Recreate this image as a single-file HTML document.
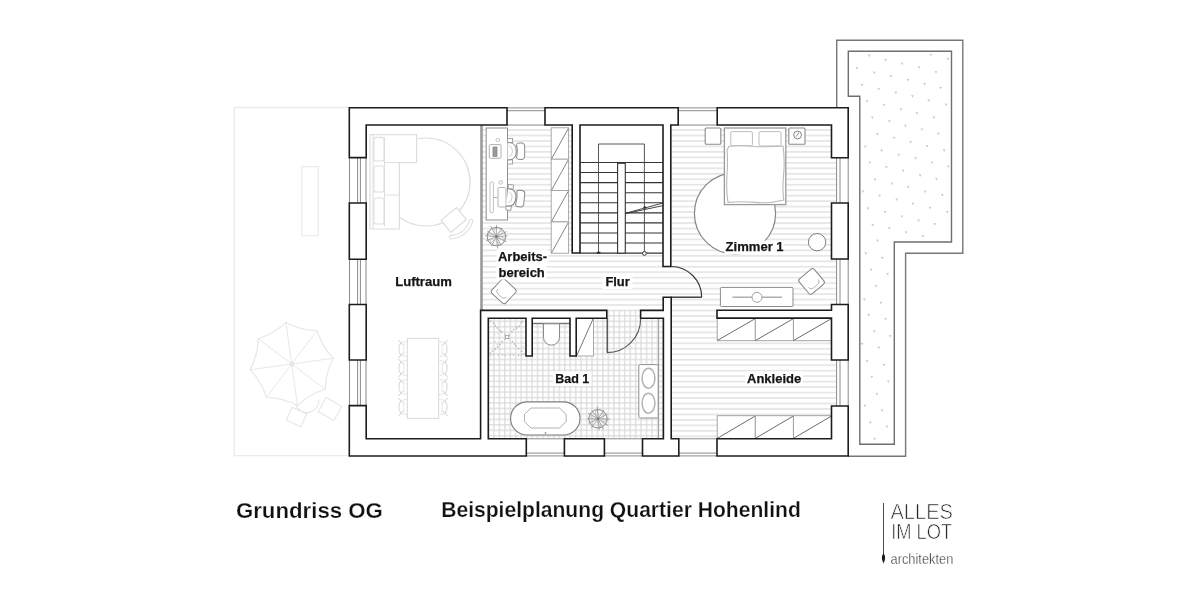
<!DOCTYPE html>
<html lang="de"><head><meta charset="utf-8"><title>Grundriss OG</title>
<style>
html,body{margin:0;padding:0;background:#fff;}
body{width:1200px;height:600px;overflow:hidden;font-family:"Liberation Sans",sans-serif;}
svg{display:block;will-change:transform;opacity:0.9999;}
text{font-family:"Liberation Sans",sans-serif;}
</style></head><body>
<svg width="1200" height="600" viewBox="0 0 1200 600">
<rect width="1200" height="600" fill="#fff"/>
<defs>
<pattern id="hatch" x="0" y="127.3" width="10" height="5.47" patternUnits="userSpaceOnUse"><rect x="0" y="2" width="10" height="1.4" fill="#e0e0e0"/></pattern>
<pattern id="grid" x="491.3" y="356.8" width="5.45" height="5.45" patternUnits="userSpaceOnUse"><rect x="2.1" y="0" width="1.1" height="5.45" fill="#d6d6d6"/><rect x="0" y="2.1" width="5.45" height="1.1" fill="#d6d6d6"/></pattern>
</defs>
<path d="M349.3,107.5 H234.3 V455.6 H349.3" fill="none" stroke="#ebebeb" stroke-width="1.3" />
<rect x="301.7" y="166.7" width="16.6" height="69.0" rx="0" fill="none" stroke="#ececec" stroke-width="1.2" />
<path d="M285.9,322.4 Q300.4,330.2 317.0,330.5 Q321.8,346.3 333.3,358.2 Q325.5,372.7 325.2,389.3 Q309.4,394.1 297.5,405.6 Q283.0,397.8 266.4,397.5 Q261.6,381.7 250.1,369.8 Q257.9,355.3 258.2,338.7 Q274.0,333.9 285.9,322.4 Z" fill="none" stroke="#e6e6e6" stroke-width="1.1" />
<line x1="291.7" y1="364" x2="285.9" y2="322.4" stroke="#e8e8e8" stroke-width="1" />
<line x1="291.7" y1="364" x2="317.0" y2="330.5" stroke="#e8e8e8" stroke-width="1" />
<line x1="291.7" y1="364" x2="333.3" y2="358.2" stroke="#e8e8e8" stroke-width="1" />
<line x1="291.7" y1="364" x2="325.2" y2="389.3" stroke="#e8e8e8" stroke-width="1" />
<line x1="291.7" y1="364" x2="297.5" y2="405.6" stroke="#e8e8e8" stroke-width="1" />
<line x1="291.7" y1="364" x2="266.4" y2="397.5" stroke="#e8e8e8" stroke-width="1" />
<line x1="291.7" y1="364" x2="250.1" y2="369.8" stroke="#e8e8e8" stroke-width="1" />
<line x1="291.7" y1="364" x2="258.2" y2="338.7" stroke="#e8e8e8" stroke-width="1" />
<circle cx="291.7" cy="364" r="2" fill="none" stroke="#e0e0e0" stroke-width="1"/>
<path d="M295.5,404.5 A12,12 0 0 0 318.8,399.5" fill="none" stroke="#e6e6e6" stroke-width="1.1" />
<g transform="rotate(25 296.5 417)"><rect x="288.5" y="410" width="16" height="14" fill="none" stroke="#e6e6e6" stroke-width="1.1"/></g>
<g transform="rotate(30 330 409)"><rect x="321" y="401" width="18" height="16" fill="none" stroke="#e6e6e6" stroke-width="1.1"/></g>
<path d="M836.7,107.8 V40.3 H962.8 V253.3 H905.6 V456.2 H848.2" fill="none" stroke="#777" stroke-width="1.4" />
<path d="M848.3,96.3 V51.2 H951.5 V242 H894.3 V444.2 H859.8 V96.3 Z" fill="#fff" stroke="#6e6e6e" stroke-width="1.4" />
<path d="M929.5,53.9 L932.3,54.1 L931.0,56.6 Z" fill="#cbcbcb"/>
<path d="M946.6,57.8 L949.4,58.0 L948.1,60.5 Z" fill="#cbcbcb"/>
<path d="M867.8,54.6 L870.6,54.8 L869.3,57.3 Z" fill="#cbcbcb"/>
<path d="M884.1,58.7 L886.9,58.9 L885.6,61.4 Z" fill="#cbcbcb"/>
<path d="M900.7,62.6 L903.5,62.8 L902.2,65.3 Z" fill="#cbcbcb"/>
<path d="M917.5,66.3 L920.3,66.5 L919.0,69.0 Z" fill="#cbcbcb"/>
<path d="M934.5,71.0 L937.3,71.2 L936.0,73.7 Z" fill="#cbcbcb"/>
<path d="M855.6,66.9 L858.4,67.1 L857.1,69.6 Z" fill="#cbcbcb"/>
<path d="M872.8,71.6 L875.6,71.8 L874.3,74.3 Z" fill="#cbcbcb"/>
<path d="M889.5,75.0 L892.3,75.2 L891.0,77.7 Z" fill="#cbcbcb"/>
<path d="M906.6,78.7 L909.4,78.9 L908.1,81.4 Z" fill="#cbcbcb"/>
<path d="M923.2,82.9 L926.0,83.1 L924.7,85.6 Z" fill="#cbcbcb"/>
<path d="M939.1,86.8 L941.9,87.0 L940.6,89.5 Z" fill="#cbcbcb"/>
<path d="M860.7,83.9 L863.5,84.1 L862.2,86.6 Z" fill="#cbcbcb"/>
<path d="M877.3,87.7 L880.1,87.9 L878.8,90.4 Z" fill="#cbcbcb"/>
<path d="M894.4,91.5 L897.2,91.7 L895.9,94.2 Z" fill="#cbcbcb"/>
<path d="M911.0,95.1 L913.8,95.3 L912.5,97.8 Z" fill="#cbcbcb"/>
<path d="M927.3,99.3 L930.1,99.5 L928.8,102.0 Z" fill="#cbcbcb"/>
<path d="M944.6,103.5 L947.4,103.7 L946.1,106.2 Z" fill="#cbcbcb"/>
<path d="M865.6,100.1 L868.4,100.3 L867.1,102.8 Z" fill="#cbcbcb"/>
<path d="M882.5,103.8 L885.3,104.0 L884.0,106.5 Z" fill="#cbcbcb"/>
<path d="M899.5,108.2 L902.3,108.4 L901.0,110.9 Z" fill="#cbcbcb"/>
<path d="M915.6,112.1 L918.4,112.3 L917.1,114.8 Z" fill="#cbcbcb"/>
<path d="M932.6,116.4 L935.4,116.6 L934.1,119.1 Z" fill="#cbcbcb"/>
<path d="M870.9,116.2 L873.7,116.4 L872.4,118.9 Z" fill="#cbcbcb"/>
<path d="M887.9,120.1 L890.7,120.3 L889.4,122.8 Z" fill="#cbcbcb"/>
<path d="M904.0,124.7 L906.8,124.9 L905.5,127.4 Z" fill="#cbcbcb"/>
<path d="M920.5,128.4 L923.3,128.6 L922.0,131.1 Z" fill="#cbcbcb"/>
<path d="M937.0,132.6 L939.8,132.8 L938.5,135.3 Z" fill="#cbcbcb"/>
<path d="M875.9,133.0 L878.7,133.2 L877.4,135.7 Z" fill="#cbcbcb"/>
<path d="M892.7,136.7 L895.5,136.9 L894.2,139.4 Z" fill="#cbcbcb"/>
<path d="M909.2,141.0 L912.0,141.2 L910.7,143.7 Z" fill="#cbcbcb"/>
<path d="M925.8,144.9 L928.6,145.1 L927.3,147.6 Z" fill="#cbcbcb"/>
<path d="M942.7,149.3 L945.5,149.5 L944.2,152.0 Z" fill="#cbcbcb"/>
<path d="M863.8,145.5 L866.6,145.7 L865.3,148.2 Z" fill="#cbcbcb"/>
<path d="M880.1,149.5 L882.9,149.7 L881.6,152.2 Z" fill="#cbcbcb"/>
<path d="M897.3,153.8 L900.1,154.0 L898.8,156.5 Z" fill="#cbcbcb"/>
<path d="M914.2,157.1 L917.0,157.3 L915.7,159.8 Z" fill="#cbcbcb"/>
<path d="M930.5,161.5 L933.3,161.7 L932.0,164.2 Z" fill="#cbcbcb"/>
<path d="M946.8,165.3 L949.6,165.5 L948.3,168.0 Z" fill="#cbcbcb"/>
<path d="M868.4,161.4 L871.2,161.6 L869.9,164.1 Z" fill="#cbcbcb"/>
<path d="M885.0,166.0 L887.8,166.2 L886.5,168.7 Z" fill="#cbcbcb"/>
<path d="M901.7,169.5 L904.5,169.7 L903.2,172.2 Z" fill="#cbcbcb"/>
<path d="M918.7,174.2 L921.5,174.4 L920.2,176.9 Z" fill="#cbcbcb"/>
<path d="M935.1,177.7 L937.9,177.9 L936.6,180.4 Z" fill="#cbcbcb"/>
<path d="M873.6,178.6 L876.4,178.8 L875.1,181.3 Z" fill="#cbcbcb"/>
<path d="M890.6,182.6 L893.4,182.8 L892.1,185.3 Z" fill="#cbcbcb"/>
<path d="M906.8,186.1 L909.6,186.3 L908.3,188.8 Z" fill="#cbcbcb"/>
<path d="M923.6,190.6 L926.4,190.8 L925.1,193.3 Z" fill="#cbcbcb"/>
<path d="M940.9,193.9 L943.7,194.1 L942.4,196.6 Z" fill="#cbcbcb"/>
<path d="M861.5,190.4 L864.3,190.6 L863.0,193.1 Z" fill="#cbcbcb"/>
<path d="M878.2,194.6 L881.0,194.8 L879.7,197.3 Z" fill="#cbcbcb"/>
<path d="M895.3,198.4 L898.1,198.6 L896.8,201.1 Z" fill="#cbcbcb"/>
<path d="M911.4,202.6 L914.2,202.8 L912.9,205.3 Z" fill="#cbcbcb"/>
<path d="M928.5,206.7 L931.3,206.9 L930.0,209.4 Z" fill="#cbcbcb"/>
<path d="M945.8,210.9 L948.6,211.1 L947.3,213.6 Z" fill="#cbcbcb"/>
<path d="M866.7,207.2 L869.5,207.4 L868.2,209.9 Z" fill="#cbcbcb"/>
<path d="M883.6,210.7 L886.4,210.9 L885.1,213.4 Z" fill="#cbcbcb"/>
<path d="M900.5,215.4 L903.3,215.6 L902.0,218.1 Z" fill="#cbcbcb"/>
<path d="M917.2,219.4 L920.0,219.6 L918.7,222.1 Z" fill="#cbcbcb"/>
<path d="M933.4,223.0 L936.2,223.2 L934.9,225.7 Z" fill="#cbcbcb"/>
<path d="M871.2,223.7 L874.0,223.9 L872.7,226.4 Z" fill="#cbcbcb"/>
<path d="M887.9,227.1 L890.7,227.3 L889.4,229.8 Z" fill="#cbcbcb"/>
<path d="M904.7,231.2 L907.5,231.4 L906.2,233.9 Z" fill="#cbcbcb"/>
<path d="M921.5,235.1 L924.3,235.3 L923.0,237.8 Z" fill="#cbcbcb"/>
<path d="M876.0,239.6 L878.8,239.8 L877.5,242.3 Z" fill="#cbcbcb"/>
<path d="M864.3,252.3 L867.1,252.5 L865.8,255.0 Z" fill="#cbcbcb"/>
<path d="M880.9,256.8 L883.7,257.0 L882.4,259.5 Z" fill="#cbcbcb"/>
<path d="M869.7,268.5 L872.5,268.7 L871.2,271.2 Z" fill="#cbcbcb"/>
<path d="M886.1,272.7 L888.9,272.9 L887.6,275.4 Z" fill="#cbcbcb"/>
<path d="M874.4,284.9 L877.2,285.1 L875.9,287.6 Z" fill="#cbcbcb"/>
<path d="M863.0,298.2 L865.8,298.4 L864.5,300.9 Z" fill="#cbcbcb"/>
<path d="M879.4,301.7 L882.2,301.9 L880.9,304.4 Z" fill="#cbcbcb"/>
<path d="M867.2,313.8 L870.0,314.0 L868.7,316.5 Z" fill="#cbcbcb"/>
<path d="M884.1,317.9 L886.9,318.1 L885.6,320.6 Z" fill="#cbcbcb"/>
<path d="M872.8,330.3 L875.6,330.5 L874.3,333.0 Z" fill="#cbcbcb"/>
<path d="M888.7,335.1 L891.5,335.3 L890.2,337.8 Z" fill="#cbcbcb"/>
<path d="M860.7,342.7 L863.5,342.9 L862.2,345.4 Z" fill="#cbcbcb"/>
<path d="M877.4,346.6 L880.2,346.8 L878.9,349.3 Z" fill="#cbcbcb"/>
<path d="M865.6,360.0 L868.4,360.2 L867.1,362.7 Z" fill="#cbcbcb"/>
<path d="M882.7,363.7 L885.5,363.9 L884.2,366.4 Z" fill="#cbcbcb"/>
<path d="M870.3,375.8 L873.1,376.0 L871.8,378.5 Z" fill="#cbcbcb"/>
<path d="M886.9,380.2 L889.7,380.4 L888.4,382.9 Z" fill="#cbcbcb"/>
<path d="M875.4,392.7 L878.2,392.9 L876.9,395.4 Z" fill="#cbcbcb"/>
<path d="M863.4,404.5 L866.2,404.7 L864.9,407.2 Z" fill="#cbcbcb"/>
<path d="M880.6,409.3 L883.4,409.5 L882.1,412.0 Z" fill="#cbcbcb"/>
<path d="M868.9,421.6 L871.7,421.8 L870.4,424.3 Z" fill="#cbcbcb"/>
<path d="M885.5,425.5 L888.3,425.7 L887.0,428.2 Z" fill="#cbcbcb"/>
<path d="M873.1,437.7 L875.9,437.9 L874.6,440.4 Z" fill="#cbcbcb"/>
<rect x="482.5" y="125" width="188.3" height="186" fill="url(#hatch)"/>
<rect x="670.8" y="125" width="165.80000000000004" height="313.7" fill="url(#hatch)"/>
<rect x="488.3" y="318.2" width="175.1" height="120.5" fill="url(#grid)"/>
<rect x="606.8" y="310.4" width="33.8" height="8" fill="url(#grid)"/>
<rect x="572.2" y="125" width="98.6" height="128" fill="#fff"/>
<g id="luftraum">
<circle cx="426" cy="182" r="44" fill="none" stroke="#dedede" stroke-width="1.2"/>
<path d="M370,134.6 H416.6 V162.6 H399.4 V229 H370 Z" fill="#fff" stroke="#dedede" stroke-width="1.2" />
<line x1="373" y1="134.6" x2="373" y2="229" stroke="#dedede" stroke-width="1"/>
<line x1="384.5" y1="162.6" x2="399.4" y2="162.6" stroke="#dedede" stroke-width="1"/>
<line x1="384.5" y1="195" x2="399.4" y2="195" stroke="#dedede" stroke-width="1"/>
<line x1="384.5" y1="137" x2="384.5" y2="226" stroke="#dedede" stroke-width="1"/>
<rect x="374" y="137.4" width="10" height="23.6" rx="2" fill="none" stroke="#dedede" stroke-width="1.1" />
<rect x="374" y="166" width="10" height="26" rx="2" fill="none" stroke="#dedede" stroke-width="1.1" />
<rect x="374" y="198" width="10" height="26" rx="2" fill="none" stroke="#dedede" stroke-width="1.1" />
<g transform="translate(453.2 219.4) rotate(-39)">
<rect x="-10" y="-7" width="20" height="15.5" rx="0" fill="#fff" stroke="#dedede" stroke-width="1.2" />
<path d="M-13,12.5 Q0,21 13,12.5" fill="none" stroke="#dedede" stroke-width="4.4" stroke-linecap="round"/>
<path d="M-13,12.5 Q0,21 13,12.5" fill="none" stroke="#fff" stroke-width="2.2" stroke-linecap="round"/>
</g>
<rect x="407.4" y="338.4" width="31.2" height="80.0" rx="0" fill="#fff" stroke="#dedede" stroke-width="1.2" />
<path d="M400.9,342.5 Q396.9,349 400.9,355.5" fill="none" stroke="#dadada" stroke-width="1.1" />
<path d="M404.4,343.5 Q402.79999999999995,349 404.4,354.5" fill="none" stroke="#e6e6e6" stroke-width="0.9" />
<path d="M398.4,340 L403.4,345.4 M398.4,358 L403.4,352.6" fill="none" stroke="#cfcfcf" stroke-width="1" />
<path d="M401.4,342.4 L406.9,341.4 M401.4,355.6 L406.9,356.6" fill="none" stroke="#e2e2e2" stroke-width="0.9" />
<path d="M445.1,342.5 Q449.1,349 445.1,355.5" fill="none" stroke="#dadada" stroke-width="1.1" />
<path d="M441.6,343.5 Q443.20000000000005,349 441.6,354.5" fill="none" stroke="#e6e6e6" stroke-width="0.9" />
<path d="M447.6,340 L442.6,345.4 M447.6,358 L442.6,352.6" fill="none" stroke="#cfcfcf" stroke-width="1" />
<path d="M444.6,342.4 L439.1,341.4 M444.6,355.6 L439.1,356.6" fill="none" stroke="#e2e2e2" stroke-width="0.9" />
<path d="M400.9,361.5 Q396.9,368 400.9,374.5" fill="none" stroke="#dadada" stroke-width="1.1" />
<path d="M404.4,362.5 Q402.79999999999995,368 404.4,373.5" fill="none" stroke="#e6e6e6" stroke-width="0.9" />
<path d="M398.4,359 L403.4,364.4 M398.4,377 L403.4,371.6" fill="none" stroke="#cfcfcf" stroke-width="1" />
<path d="M401.4,361.4 L406.9,360.4 M401.4,374.6 L406.9,375.6" fill="none" stroke="#e2e2e2" stroke-width="0.9" />
<path d="M445.1,361.5 Q449.1,368 445.1,374.5" fill="none" stroke="#dadada" stroke-width="1.1" />
<path d="M441.6,362.5 Q443.20000000000005,368 441.6,373.5" fill="none" stroke="#e6e6e6" stroke-width="0.9" />
<path d="M447.6,359 L442.6,364.4 M447.6,377 L442.6,371.6" fill="none" stroke="#cfcfcf" stroke-width="1" />
<path d="M444.6,361.4 L439.1,360.4 M444.6,374.6 L439.1,375.6" fill="none" stroke="#e2e2e2" stroke-width="0.9" />
<path d="M400.9,380.5 Q396.9,387 400.9,393.5" fill="none" stroke="#dadada" stroke-width="1.1" />
<path d="M404.4,381.5 Q402.79999999999995,387 404.4,392.5" fill="none" stroke="#e6e6e6" stroke-width="0.9" />
<path d="M398.4,378 L403.4,383.4 M398.4,396 L403.4,390.6" fill="none" stroke="#cfcfcf" stroke-width="1" />
<path d="M401.4,380.4 L406.9,379.4 M401.4,393.6 L406.9,394.6" fill="none" stroke="#e2e2e2" stroke-width="0.9" />
<path d="M445.1,380.5 Q449.1,387 445.1,393.5" fill="none" stroke="#dadada" stroke-width="1.1" />
<path d="M441.6,381.5 Q443.20000000000005,387 441.6,392.5" fill="none" stroke="#e6e6e6" stroke-width="0.9" />
<path d="M447.6,378 L442.6,383.4 M447.6,396 L442.6,390.6" fill="none" stroke="#cfcfcf" stroke-width="1" />
<path d="M444.6,380.4 L439.1,379.4 M444.6,393.6 L439.1,394.6" fill="none" stroke="#e2e2e2" stroke-width="0.9" />
<path d="M400.9,400.5 Q396.9,407 400.9,413.5" fill="none" stroke="#dadada" stroke-width="1.1" />
<path d="M404.4,401.5 Q402.79999999999995,407 404.4,412.5" fill="none" stroke="#e6e6e6" stroke-width="0.9" />
<path d="M398.4,398 L403.4,403.4 M398.4,416 L403.4,410.6" fill="none" stroke="#cfcfcf" stroke-width="1" />
<path d="M401.4,400.4 L406.9,399.4 M401.4,413.6 L406.9,414.6" fill="none" stroke="#e2e2e2" stroke-width="0.9" />
<path d="M445.1,400.5 Q449.1,407 445.1,413.5" fill="none" stroke="#dadada" stroke-width="1.1" />
<path d="M441.6,401.5 Q443.20000000000005,407 441.6,412.5" fill="none" stroke="#e6e6e6" stroke-width="0.9" />
<path d="M447.6,398 L442.6,403.4 M447.6,416 L442.6,410.6" fill="none" stroke="#cfcfcf" stroke-width="1" />
<path d="M444.6,400.4 L439.1,399.4 M444.6,413.6 L439.1,414.6" fill="none" stroke="#e2e2e2" stroke-width="0.9" />
</g>
<g id="arbeit">
<rect x="486.2" y="128" width="21.3" height="92" rx="0" fill="#fff" stroke="#8f8f8f" stroke-width="1" />
<rect x="489.3" y="144.6" width="11.7" height="13.7" rx="1" fill="none" stroke="#a8a8a8" stroke-width="0.9" />
<rect x="493" y="147" width="4" height="9.5" rx="0" fill="#9a9a9a" stroke="#8a8a8a" stroke-width="0.8" />
<rect x="496" y="138.6" width="3.6" height="2.8" rx="1.2" fill="none" stroke="#b0b0b0" stroke-width="0.8" />
<rect x="490" y="182" width="3.4" height="30.5" rx="1" fill="none" stroke="#b5b5b5" stroke-width="0.8" />
<line x1="493.4" y1="197.5" x2="497" y2="197.5" stroke="#b0b0b0" stroke-width="1"/>
<rect x="498" y="187.5" width="8" height="19.5" rx="1.5" fill="none" stroke="#a8a8a8" stroke-width="0.9" />
<rect x="499" y="180.8" width="3.4" height="3.2" rx="1.2" fill="none" stroke="#b0b0b0" stroke-width="0.8" />
<g transform="translate(515 151.2) rotate(0)">
<rect x="-7.5" y="-12.8" width="5.1" height="4.2" rx="0" fill="#fff" stroke="#999" stroke-width="0.9" />
<rect x="-7.5" y="8.6" width="5.1" height="4.2" rx="0" fill="#fff" stroke="#999" stroke-width="0.9" />
<path d="M-7.5,-8.6 H-5 Q1.2,-8 1.2,0 Q1.2,8 -5,8.6 H-7.5" fill="#fff" stroke="#888" stroke-width="1" />
<path d="M-6,-5.5 Q-2.5,-4.5 -2.5,0 Q-2.5,4.5 -6,5.5" fill="none" stroke="#c4c4c4" stroke-width="0.8" />
<path d="M1.6,-7 Q2,-8 3.4,-8.1 L7,-8.3 Q9.7,-8 9.7,-5 V5 Q9.7,8 7,8.3 L3.4,8.1 Q2,8 1.6,7 Q3.2,0 1.6,-7 Z" fill="#fff" stroke="#888" stroke-width="1" />
</g>
<g transform="translate(514.6 198) rotate(6)">
<rect x="-7.5" y="-12.8" width="5.1" height="4.2" rx="0" fill="#fff" stroke="#999" stroke-width="0.9" />
<rect x="-7.5" y="8.6" width="5.1" height="4.2" rx="0" fill="#fff" stroke="#999" stroke-width="0.9" />
<path d="M-7.5,-8.6 H-5 Q1.2,-8 1.2,0 Q1.2,8 -5,8.6 H-7.5" fill="#fff" stroke="#888" stroke-width="1" />
<path d="M-6,-5.5 Q-2.5,-4.5 -2.5,0 Q-2.5,4.5 -6,5.5" fill="none" stroke="#c4c4c4" stroke-width="0.8" />
<path d="M1.6,-7 Q2,-8 3.4,-8.1 L7,-8.3 Q9.7,-8 9.7,-5 V5 Q9.7,8 7,8.3 L3.4,8.1 Q2,8 1.6,7 Q3.2,0 1.6,-7 Z" fill="#fff" stroke="#888" stroke-width="1" />
</g>
<rect x="551.2" y="127.8" width="17.4" height="31.4" rx="0" fill="#fff" stroke="#a0a0a0" stroke-width="0.9" />
<line x1="551.6" y1="158.7" x2="568.2" y2="128.6" stroke="#777" stroke-width="0.9"/>
<rect x="551.2" y="159.2" width="17.4" height="31.3" rx="0" fill="#fff" stroke="#a0a0a0" stroke-width="0.9" />
<line x1="551.6" y1="190.0" x2="568.2" y2="160.0" stroke="#777" stroke-width="0.9"/>
<rect x="551.2" y="190.5" width="17.4" height="31.3" rx="0" fill="#fff" stroke="#a0a0a0" stroke-width="0.9" />
<line x1="551.6" y1="221.3" x2="568.2" y2="191.3" stroke="#777" stroke-width="0.9"/>
<rect x="551.2" y="221.9" width="17.4" height="31.3" rx="0" fill="#fff" stroke="#a0a0a0" stroke-width="0.9" />
<line x1="551.6" y1="252.7" x2="568.2" y2="222.7" stroke="#777" stroke-width="0.9"/>
<path d="M496.4,236.6 L507.7,235.9 M496.4,236.6 L506.5,242.0 M496.4,236.6 L501.3,245.8 M496.4,236.6 L497.8,248.4 M496.4,236.6 L491.6,246.2 M496.4,236.6 L486.1,241.0 M496.4,236.6 L485.3,235.7 M496.4,236.6 L487.4,231.0 M496.4,236.6 L490.8,226.1 M496.4,236.6 L496.5,224.9 M496.4,236.6 L502.0,227.8 M496.4,236.6 L506.6,231.5 " fill="none" stroke="#8c8c8c" stroke-width="0.75" />
<circle cx="496.4" cy="236.6" r="9.2" fill="none" stroke="#8a8a8a" stroke-width="1"/>
<path d="M496.4,236.6 Q503.3,236.3 504.7,239.2 Q501.9,240.8 496.4,236.6 M496.4,236.6 Q500.1,242.4 498.3,245.1 Q495.5,243.4 496.4,236.6 M496.4,236.6 Q493.3,242.7 490.0,242.5 Q490.0,239.3 496.4,236.6 M496.4,236.6 Q489.5,236.9 488.1,234.0 Q490.9,232.4 496.4,236.6 M496.4,236.6 Q492.7,230.8 494.5,228.1 Q497.3,229.8 496.4,236.6 M496.4,236.6 Q499.5,230.5 502.8,230.7 Q502.8,233.9 496.4,236.6 " fill="none" stroke="#b5b5b5" stroke-width="0.7" />
<circle cx="496.4" cy="236.6" r="1.3" fill="#777" stroke="none" stroke-width="1"/>
<g transform="translate(503.7 291.3) rotate(43)">
<rect x="-9.5" y="-9.5" width="19.0" height="19.0" rx="2.6" fill="#fff" stroke="#858585" stroke-width="1" />
<path d="M-6.0,2.5 Q-5.7,5.9 -2.5,5.9 H2.5 Q5.7,5.9 6.0,2.5" fill="none" stroke="#b0b0b0" stroke-width="0.9" />
</g>
</g>
<g id="bad">
<circle cx="490.8" cy="321.1" r="0.85" fill="#b8b8b8"/>
<circle cx="493.7" cy="323.2" r="0.85" fill="#b8b8b8"/>
<circle cx="495.4" cy="325.6" r="0.85" fill="#b8b8b8"/>
<circle cx="497.2" cy="327.8" r="0.85" fill="#b8b8b8"/>
<circle cx="500.1" cy="330.4" r="0.85" fill="#b8b8b8"/>
<circle cx="501.6" cy="331.9" r="0.85" fill="#b8b8b8"/>
<circle cx="522.7" cy="321.5" r="0.85" fill="#b8b8b8"/>
<circle cx="521.3" cy="322.6" r="0.85" fill="#b8b8b8"/>
<circle cx="519.4" cy="326.2" r="0.85" fill="#b8b8b8"/>
<circle cx="516.7" cy="327.9" r="0.85" fill="#b8b8b8"/>
<circle cx="513.7" cy="329.3" r="0.85" fill="#b8b8b8"/>
<circle cx="511.9" cy="331.6" r="0.85" fill="#b8b8b8"/>
<circle cx="490.4" cy="353.0" r="0.85" fill="#b8b8b8"/>
<circle cx="492.5" cy="351.0" r="0.85" fill="#b8b8b8"/>
<circle cx="495.3" cy="349.2" r="0.85" fill="#b8b8b8"/>
<circle cx="497.7" cy="346.7" r="0.85" fill="#b8b8b8"/>
<circle cx="499.9" cy="344.4" r="0.85" fill="#b8b8b8"/>
<circle cx="502.1" cy="341.6" r="0.85" fill="#b8b8b8"/>
<circle cx="524.0" cy="354.0" r="0.85" fill="#b8b8b8"/>
<circle cx="521.5" cy="351.3" r="0.85" fill="#b8b8b8"/>
<circle cx="518.5" cy="348.4" r="0.85" fill="#b8b8b8"/>
<circle cx="516.2" cy="345.9" r="0.85" fill="#b8b8b8"/>
<circle cx="514.5" cy="344.0" r="0.85" fill="#b8b8b8"/>
<circle cx="512.4" cy="341.7" r="0.85" fill="#b8b8b8"/>
<circle cx="490.5" cy="355.5" r="0.8" fill="#bdbdbd"/>
<circle cx="493.4" cy="354.8" r="0.8" fill="#bdbdbd"/>
<circle cx="498.5" cy="355.1" r="0.8" fill="#bdbdbd"/>
<circle cx="502.6" cy="355.0" r="0.8" fill="#bdbdbd"/>
<circle cx="505.5" cy="355.3" r="0.8" fill="#bdbdbd"/>
<circle cx="510.3" cy="354.9" r="0.8" fill="#bdbdbd"/>
<circle cx="513.5" cy="355.0" r="0.8" fill="#bdbdbd"/>
<circle cx="518.6" cy="355.4" r="0.8" fill="#bdbdbd"/>
<circle cx="521.5" cy="354.9" r="0.8" fill="#bdbdbd"/>
<circle cx="494.3" cy="322.9" r="0.7" fill="#cfcfcf"/>
<circle cx="517.3" cy="326.7" r="0.7" fill="#cfcfcf"/>
<circle cx="509.5" cy="335.3" r="0.7" fill="#cfcfcf"/>
<circle cx="497.3" cy="344.4" r="0.7" fill="#cfcfcf"/>
<circle cx="495.3" cy="341.6" r="0.7" fill="#cfcfcf"/>
<circle cx="494.8" cy="334.5" r="0.7" fill="#cfcfcf"/>
<circle cx="498.0" cy="329.6" r="0.7" fill="#cfcfcf"/>
<circle cx="523.0" cy="346.7" r="0.7" fill="#cfcfcf"/>
<circle cx="501.0" cy="349.3" r="0.7" fill="#cfcfcf"/>
<circle cx="498.0" cy="333.6" r="0.7" fill="#cfcfcf"/>
<path d="M504.6,334.6 L509.4,339.4 M509.4,334.6 L504.6,339.4" fill="none" stroke="#8a8a8a" stroke-width="0.9" />
<rect x="505.3" y="335.3" width="3.4" height="3.4" rx="0" fill="#fff" stroke="#999" stroke-width="0.8" />
<rect x="532.4" y="318.6" width="37.8" height="4.9" rx="0" fill="#fff" stroke="none" stroke-width="1" />
<line x1="532.2" y1="323.5" x2="570.2" y2="323.5" stroke="#777" stroke-width="1.3"/>
<path d="M543.5,323.8 V337.2 A8,8 0 0 0 559.5,337.2 V323.8 Z" fill="#fff" stroke="#8a8a8a" stroke-width="1" />
<rect x="576.4" y="318.4" width="17.1" height="37.6" rx="0" fill="#fff" stroke="#a0a0a0" stroke-width="0.9" />
<line x1="577" y1="355" x2="593" y2="319" stroke="#666" stroke-width="0.9"/>
<line x1="658.6" y1="318.4" x2="658.6" y2="438.6" stroke="#9a9a9a" stroke-width="1"/>
<rect x="638.8" y="364.6" width="19.4" height="53.4" rx="1.5" fill="#fff" stroke="#8f8f8f" stroke-width="1" />
<ellipse cx="648.5" cy="378.2" rx="6.4" ry="10" fill="none" stroke="#b4b4b4" stroke-width="1.5"/>
<ellipse cx="648.5" cy="403.2" rx="6.4" ry="10" fill="none" stroke="#b4b4b4" stroke-width="1.5"/>
<rect x="510.6" y="401.9" width="69.4" height="33.1" rx="16.5" fill="#fff" stroke="#7d7d7d" stroke-width="1.1" />
<path d="M531,408 H559.5 L566.2,414.5 V421.5 L559.5,428 H531 L524.4,421.5 V414.5 Z" fill="none" stroke="#b0b0b0" stroke-width="1" stroke-linejoin="round"/>
<circle cx="545.5" cy="433" r="0.9" fill="#999" stroke="none" stroke-width="1"/>
<path d="M598,418.8 L609.7,419.1 M598,418.8 L608.0,425.5 M598,418.8 L603.4,429.5 M598,418.8 L599.3,429.9 M598,418.8 L591.2,428.1 M598,418.8 L588.4,423.2 M598,418.8 L587.2,418.9 M598,418.8 L588.2,413.0 M598,418.8 L591.6,410.2 M598,418.8 L597.4,406.8 M598,418.8 L603.9,410.0 M598,418.8 L607.5,414.2 " fill="none" stroke="#8c8c8c" stroke-width="0.75" />
<circle cx="598" cy="418.8" r="9.2" fill="none" stroke="#8a8a8a" stroke-width="1"/>
<path d="M598,418.8 Q604.9,418.5 606.3,421.4 Q603.5,423.0 598,418.8 M598,418.8 Q601.7,424.6 599.9,427.3 Q597.1,425.6 598,418.8 M598,418.8 Q594.9,424.9 591.6,424.7 Q591.6,421.5 598,418.8 M598,418.8 Q591.1,419.1 589.7,416.2 Q592.5,414.6 598,418.8 M598,418.8 Q594.3,413.0 596.1,410.3 Q598.9,412.0 598,418.8 M598,418.8 Q601.1,412.7 604.4,412.9 Q604.4,416.1 598,418.8 " fill="none" stroke="#b5b5b5" stroke-width="0.7" />
<circle cx="598" cy="418.8" r="1.3" fill="#777" stroke="none" stroke-width="1"/>
</g>
<g id="zimmer">
<circle cx="735" cy="213.4" r="40.6" fill="#fff" stroke="#858585" stroke-width="1.2"/>
<rect x="705.2" y="128" width="15.6" height="16.3" rx="1" fill="#fff" stroke="#8a8a8a" stroke-width="1.1" />
<rect x="788.8" y="128" width="16.2" height="16.3" rx="1" fill="#fff" stroke="#8a8a8a" stroke-width="1.1" />
<circle cx="797.6" cy="135" r="3.9" fill="none" stroke="#777" stroke-width="0.9"/>
<path d="M795.8,136.4 L797.6,135 L798.6,132.6" fill="none" stroke="#777" stroke-width="0.8" />
<rect x="724.4" y="128" width="61.4" height="76.6" rx="0" fill="#fff" stroke="#999" stroke-width="1.3" />
<rect x="730.8" y="131.6" width="21.6" height="14.4" rx="1.5" fill="#fff" stroke="#bdbdbd" stroke-width="1" />
<rect x="759" y="131.6" width="22" height="14.4" rx="1.5" fill="#fff" stroke="#bdbdbd" stroke-width="1" />
<path d="M729,146.3 Q740,145 752,146.2 T783,146 Q785,160 783.6,175 T783.8,200 Q770,203.6 755,202.4 T728,202.4 Q726,190 727,175 T727,150 Z" fill="#fff" stroke="#b8b8b8" stroke-width="1.1" />
<circle cx="817.1" cy="242.2" r="8.7" fill="#fff" stroke="#7d7d7d" stroke-width="1"/>
<g transform="translate(811.6 281.4) rotate(-40)">
<rect x="-9.8" y="-9.8" width="19.6" height="19.6" rx="2.6" fill="#fff" stroke="#858585" stroke-width="1" />
<path d="M-6.300000000000001,2.8000000000000007 Q-6.000000000000001,6.200000000000001 -2.8000000000000007,6.200000000000001 H2.8000000000000007 Q6.000000000000001,6.200000000000001 6.300000000000001,2.8000000000000007" fill="none" stroke="#b0b0b0" stroke-width="0.9" />
</g>
<rect x="720.4" y="287.4" width="72.6" height="19.1" rx="1" fill="#fff" stroke="#8a8a8a" stroke-width="1" />
<line x1="732.4" y1="297.3" x2="782" y2="297.3" stroke="#b0b0b0" stroke-width="1.4"/>
<circle cx="757" cy="297.3" r="5" fill="#fff" stroke="#a0a0a0" stroke-width="1"/>
</g>
<g id="ankleide">
<rect x="717.2" y="318.3" width="38.1" height="22.4" rx="0" fill="#fff" stroke="#9a9a9a" stroke-width="0.9" />
<line x1="717.7" y1="340.3" x2="754.8" y2="318.90000000000003" stroke="#5a5a5a" stroke-width="0.9"/>
<rect x="755.3" y="318.3" width="38.1" height="22.4" rx="0" fill="#fff" stroke="#9a9a9a" stroke-width="0.9" />
<line x1="755.8" y1="340.3" x2="792.9" y2="318.90000000000003" stroke="#5a5a5a" stroke-width="0.9"/>
<rect x="793.4" y="318.3" width="38.1" height="22.4" rx="0" fill="#fff" stroke="#9a9a9a" stroke-width="0.9" />
<line x1="793.9" y1="340.3" x2="831.0" y2="318.90000000000003" stroke="#5a5a5a" stroke-width="0.9"/>
<rect x="717.2" y="415.7" width="38.1" height="22.8" rx="0" fill="#fff" stroke="#9a9a9a" stroke-width="0.9" />
<line x1="717.7" y1="438.1" x2="754.8" y2="416.3" stroke="#5a5a5a" stroke-width="0.9"/>
<rect x="755.3" y="415.7" width="38.1" height="22.8" rx="0" fill="#fff" stroke="#9a9a9a" stroke-width="0.9" />
<line x1="755.8" y1="438.1" x2="792.9" y2="416.3" stroke="#5a5a5a" stroke-width="0.9"/>
<rect x="793.4" y="415.7" width="38.1" height="22.8" rx="0" fill="#fff" stroke="#9a9a9a" stroke-width="0.9" />
<line x1="793.9" y1="438.1" x2="831.0" y2="416.3" stroke="#5a5a5a" stroke-width="0.9"/>
</g>
<rect x="349.3" y="157" width="17" height="250" fill="#fff"/>
<rect x="836.6" y="157" width="11.6" height="250" fill="#fff"/>
<line x1="349.5" y1="157.6" x2="349.5" y2="203" stroke="#8a8a8a" stroke-width="1" />
<line x1="357.6" y1="157.6" x2="357.6" y2="203" stroke="#8a8a8a" stroke-width="1" />
<line x1="360.4" y1="157.6" x2="360.4" y2="203" stroke="#8a8a8a" stroke-width="1" />
<line x1="366.0" y1="157.6" x2="366.0" y2="203" stroke="#8a8a8a" stroke-width="1" />
<line x1="349.5" y1="259.2" x2="349.5" y2="304.5" stroke="#8a8a8a" stroke-width="1" />
<line x1="357.6" y1="259.2" x2="357.6" y2="304.5" stroke="#8a8a8a" stroke-width="1" />
<line x1="360.4" y1="259.2" x2="360.4" y2="304.5" stroke="#8a8a8a" stroke-width="1" />
<line x1="366.0" y1="259.2" x2="366.0" y2="304.5" stroke="#8a8a8a" stroke-width="1" />
<line x1="349.5" y1="360" x2="349.5" y2="405.6" stroke="#8a8a8a" stroke-width="1" />
<line x1="357.6" y1="360" x2="357.6" y2="405.6" stroke="#8a8a8a" stroke-width="1" />
<line x1="360.4" y1="360" x2="360.4" y2="405.6" stroke="#8a8a8a" stroke-width="1" />
<line x1="366.0" y1="360" x2="366.0" y2="405.6" stroke="#8a8a8a" stroke-width="1" />
<line x1="836.6" y1="157.7" x2="836.6" y2="203" stroke="#8a8a8a" stroke-width="1" />
<line x1="840.0" y1="157.7" x2="840.0" y2="203" stroke="#8a8a8a" stroke-width="1" />
<line x1="848.2" y1="157.7" x2="848.2" y2="203" stroke="#8a8a8a" stroke-width="1" />
<line x1="836.6" y1="259" x2="836.6" y2="304.5" stroke="#8a8a8a" stroke-width="1" />
<line x1="840.0" y1="259" x2="840.0" y2="304.5" stroke="#8a8a8a" stroke-width="1" />
<line x1="848.2" y1="259" x2="848.2" y2="304.5" stroke="#8a8a8a" stroke-width="1" />
<line x1="836.6" y1="360" x2="836.6" y2="406" stroke="#8a8a8a" stroke-width="1" />
<line x1="840.0" y1="360" x2="840.0" y2="406" stroke="#8a8a8a" stroke-width="1" />
<line x1="848.2" y1="360" x2="848.2" y2="406" stroke="#8a8a8a" stroke-width="1" />
<rect x="507" y="108" width="38" height="17" fill="#fff"/>
<line x1="507" y1="107.9" x2="545" y2="107.9" stroke="#8a8a8a" stroke-width="1" />
<line x1="507" y1="110.7" x2="545" y2="110.7" stroke="#8a8a8a" stroke-width="1" />
<line x1="507" y1="125.0" x2="545" y2="125.0" stroke="#8a8a8a" stroke-width="1" />
<rect x="678.2" y="108" width="39.0" height="17" fill="#fff"/>
<line x1="678.2" y1="107.9" x2="717.2" y2="107.9" stroke="#8a8a8a" stroke-width="1" />
<line x1="678.2" y1="110.7" x2="717.2" y2="110.7" stroke="#8a8a8a" stroke-width="1" />
<line x1="678.2" y1="125.0" x2="717.2" y2="125.0" stroke="#8a8a8a" stroke-width="1" />
<rect x="526.3" y="438.7" width="38.10000000000002" height="17" fill="#fff"/>
<line x1="526.3" y1="438.8" x2="564.4" y2="438.8" stroke="#8a8a8a" stroke-width="1" />
<line x1="526.3" y1="453.1" x2="564.4" y2="453.1" stroke="#8a8a8a" stroke-width="1" />
<line x1="526.3" y1="455.9" x2="564.4" y2="455.9" stroke="#8a8a8a" stroke-width="1" />
<rect x="604.4" y="438.7" width="38.10000000000002" height="17" fill="#fff"/>
<line x1="604.4" y1="438.8" x2="642.5" y2="438.8" stroke="#8a8a8a" stroke-width="1" />
<line x1="604.4" y1="453.1" x2="642.5" y2="453.1" stroke="#8a8a8a" stroke-width="1" />
<line x1="604.4" y1="455.9" x2="642.5" y2="455.9" stroke="#8a8a8a" stroke-width="1" />
<rect x="678.8" y="438.7" width="38.200000000000045" height="17" fill="#fff"/>
<line x1="678.8" y1="438.8" x2="717" y2="438.8" stroke="#8a8a8a" stroke-width="1" />
<line x1="678.8" y1="453.1" x2="717" y2="453.1" stroke="#8a8a8a" stroke-width="1" />
<line x1="678.8" y1="455.9" x2="717" y2="455.9" stroke="#8a8a8a" stroke-width="1" />
<rect x="480.2" y="125" width="2.6" height="185.4" fill="#9c9c9c"/>
<path d="M349.3,107.8 L507,107.8 L507,125.0 L366.2,125.0 L366.2,157.6 L349.3,157.6 Z" fill="#fff" stroke="#1c1c1c" stroke-width="1.6" stroke-linejoin="miter" />
<path d="M545,107.8 L678.2,107.8 L678.2,125.0 L670.8,125.0 L670.8,266.5 L663,266.5 L663,125.0 L580,125.0 L580,253 L572.2,253 L572.2,125.0 L545,125.0 Z" fill="#fff" stroke="#1c1c1c" stroke-width="1.6" stroke-linejoin="miter" />
<path d="M717.2,107.8 L848.2,107.8 L848.2,157.7 L831.5,157.7 L831.5,125.0 L717.2,125.0 Z" fill="#fff" stroke="#1c1c1c" stroke-width="1.6" stroke-linejoin="miter" />
<path d="M349.3,203 L366.2,203 L366.2,259.2 L349.3,259.2 Z" fill="#fff" stroke="#1c1c1c" stroke-width="1.6" stroke-linejoin="miter" />
<path d="M349.3,304.5 L366.2,304.5 L366.2,360 L349.3,360 Z" fill="#fff" stroke="#1c1c1c" stroke-width="1.6" stroke-linejoin="miter" />
<path d="M831.5,203 L848.2,203 L848.2,259 L831.5,259 Z" fill="#fff" stroke="#1c1c1c" stroke-width="1.6" stroke-linejoin="miter" />
<path d="M831.5,304.5 L848.2,304.5 L848.2,360 L831.5,360 L831.5,318.1 L717,318.1 L717,310.3 L831.5,310.3 Z" fill="#fff" stroke="#1c1c1c" stroke-width="1.6" stroke-linejoin="miter" />
<path d="M349.3,405.6 L366.2,405.6 L366.2,438.7 L480.6,438.7 L480.6,310.4 L606.8,310.4 L606.8,318.2 L576.2,318.2 L576.2,356 L570,356 L570,318.2 L532.2,318.2 L532.2,356 L526,356 L526,318.2 L488.3,318.2 L488.3,438.7 L526.3,438.7 L526.3,456.0 L349.3,456.0 Z" fill="#fff" stroke="#1c1c1c" stroke-width="1.6" stroke-linejoin="miter" />
<path d="M564.4,438.7 L604.4,438.7 L604.4,456.0 L564.4,456.0 Z" fill="#fff" stroke="#1c1c1c" stroke-width="1.6" stroke-linejoin="miter" />
<path d="M642.5,438.7 L663.4,438.7 L663.4,318.2 L640.6,318.2 L640.6,310.4 L663.2,310.4 L663.2,297.2 L671.2,297.2 L671.2,438.7 L678.8,438.7 L678.8,456.0 L642.5,456.0 Z" fill="#fff" stroke="#1c1c1c" stroke-width="1.6" stroke-linejoin="miter" />
<path d="M717,438.7 L831.5,438.7 L831.5,406 L848.2,406 L848.2,456.0 L717,456.0 Z" fill="#fff" stroke="#1c1c1c" stroke-width="1.6" stroke-linejoin="miter" />
<line x1="580" y1="162.5" x2="663" y2="162.5" stroke="#333" stroke-width="1.1" />
<line x1="580" y1="172.57" x2="663" y2="172.57" stroke="#333" stroke-width="1.1" />
<line x1="580" y1="182.64" x2="663" y2="182.64" stroke="#333" stroke-width="1.1" />
<line x1="580" y1="192.71" x2="663" y2="192.71" stroke="#333" stroke-width="1.1" />
<line x1="580" y1="202.78" x2="663" y2="202.78" stroke="#333" stroke-width="1.1" />
<line x1="580" y1="212.85" x2="663" y2="212.85" stroke="#333" stroke-width="1.1" />
<line x1="580" y1="222.92" x2="663" y2="222.92" stroke="#333" stroke-width="1.1" />
<line x1="580" y1="232.99" x2="663" y2="232.99" stroke="#333" stroke-width="1.1" />
<line x1="580" y1="243.06" x2="663" y2="243.06" stroke="#333" stroke-width="1.1" />
<line x1="580" y1="253.13" x2="663" y2="253.13" stroke="#333" stroke-width="1.1" />
<rect x="617.6" y="163.3" width="7.7" height="89.8" rx="0" fill="#fff" stroke="#333" stroke-width="1.1" />
<path d="M598.5,253 V144 H644.4 V251.5" fill="none" stroke="#444" stroke-width="0.9" />
<line x1="596.8" y1="252.6" x2="600.4" y2="252.6" stroke="#222" stroke-width="1.6" />
<circle cx="644.4" cy="253.4" r="1.9" fill="#fff" stroke="#333" stroke-width="1"/>
<path d="M625.8,213.2 L663,203 M625.8,213.6 L663,205.6" fill="none" stroke="#333" stroke-width="0.9" />
<path d="M642.5,207.2 L646.5,208.9 L645.8,206.2 Z" fill="#333" stroke="none" stroke-width="1" />
<path d="M671,266.5 A30.7,30.7 0 0 1 701.7,297.2" fill="none" stroke="#333" stroke-width="1.1" />
<line x1="671.2" y1="297.2" x2="701.7" y2="297.2" stroke="#222" stroke-width="1.3" />
<path d="M606.9,352.6 A33.8,33.8 0 0 0 640.6,318.4" fill="none" stroke="#555" stroke-width="1.1" />
<line x1="607.2" y1="318.2" x2="607.2" y2="352.6" stroke="#333" stroke-width="1.2" />
<g fill="#fff">
<rect x="393.5" y="274.5" width="60" height="15"/>
<rect x="496.5" y="249.5" width="52" height="14"/>
<rect x="496.5" y="263.5" width="50" height="16"/>
<rect x="602.5" y="274.5" width="30" height="14.5"/>
<rect x="724.6" y="240.6" width="59.6" height="13.8"/>
<rect x="553" y="371.5" width="38.5" height="14.5"/>
<rect x="745" y="371.5" width="58" height="14.5"/>
</g>
<g font-family="'Liberation Sans', sans-serif" font-weight="bold" font-size="12.6" fill="#151515" stroke="#151515" stroke-width="0.25">
<text x="395.2" y="286.4" textLength="56.6" lengthAdjust="spacingAndGlyphs">Luftraum</text>
<text x="498" y="260.8" textLength="49" lengthAdjust="spacingAndGlyphs">Arbeits-</text>
<text x="498.6" y="276.7" textLength="46.2" lengthAdjust="spacingAndGlyphs">bereich</text>
<text x="605.4" y="286.4" textLength="24.4" lengthAdjust="spacingAndGlyphs">Flur</text>
<text x="725.6" y="251.3" textLength="58" lengthAdjust="spacingAndGlyphs">Zimmer 1</text>
<text x="555.3" y="383.3" textLength="34" lengthAdjust="spacingAndGlyphs">Bad 1</text>
<text x="747" y="383.3" textLength="54.2" lengthAdjust="spacingAndGlyphs">Ankleide</text>
</g>
<g font-family="'Liberation Sans', sans-serif" font-weight="bold" font-size="22.4" fill="#111" stroke="#fff" stroke-width="0.25">
<text x="235.9" y="517.6" textLength="147" lengthAdjust="spacingAndGlyphs">Grundriss OG</text>
<text x="441.2" y="517" textLength="359.6" lengthAdjust="spacingAndGlyphs">Beispielplanung Quartier Hohenlind</text>
</g>
<g id="logo">
<line x1="883.5" y1="503" x2="883.5" y2="554.5" stroke="#333" stroke-width="0.9"/>
<path d="M883.5,553.4 C885.9,556 885.4,559 883.5,563.6 C881.6,559 881.1,556 883.5,553.4 Z" fill="#1a1a1a"/>
<g font-family="'Liberation Sans', sans-serif" fill="#222" stroke="#fff" stroke-width="0.7">
<text x="890.4" y="518.5" font-size="22.4" textLength="62.6" lengthAdjust="spacingAndGlyphs">ALLES</text>
<text x="891.2" y="538.9" font-size="22.4" textLength="61" lengthAdjust="spacingAndGlyphs">IM LOT</text>
<text x="890.5" y="563.5" font-size="15" textLength="62.8" lengthAdjust="spacingAndGlyphs" stroke-width="0.4" fill="#111">architekten</text>
</g>
</g>

</svg>
</body></html>
